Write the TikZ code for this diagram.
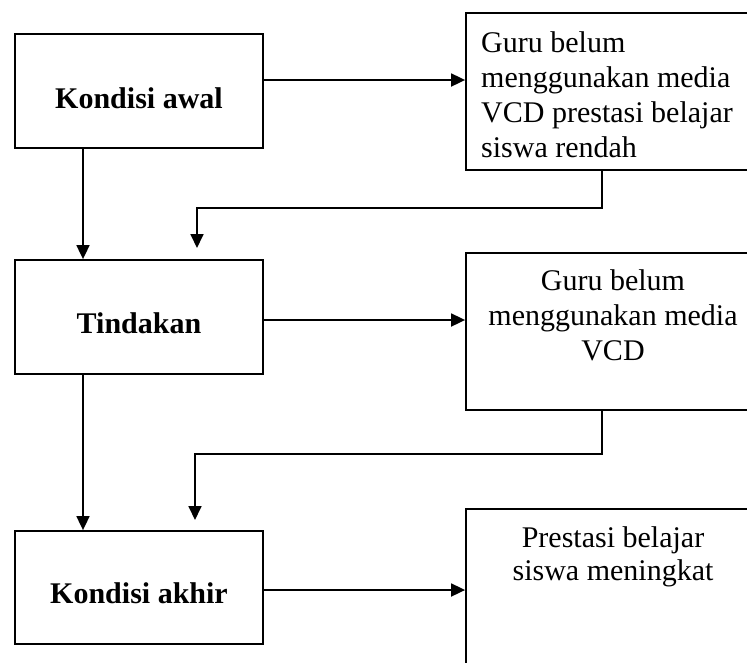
\documentclass[tikz,border=0pt]{standalone}
\usepackage{fontspec}
\setmainfont{Liberation Serif}
\usetikzlibrary{arrows.meta}
\begin{document}
\begin{tikzpicture}[x=1pt,y=-1pt,
  box/.style={draw, line width=1.8pt, rectangle, inner sep=0pt},
  lbl/.style={font=\fontsize{30}{35}\selectfont\bfseries, inner sep=0pt, anchor=base},
  txt/.style={font=\fontsize{30}{35}\selectfont, inner sep=0pt},
  arr/.style={line width=1.8pt, -{Triangle[length=14pt,width=13pt]}}]
\useasboundingbox (0,0) rectangle (747,662);
\clip (0,0) rectangle (747,662);
% left boxes
\node[box, minimum width=248pt, minimum height=114pt] (ka) at (139,91) {};
\node[lbl] (kat) at (139,108) {Kondisi awal};
\node[box, minimum width=248pt, minimum height=114pt] (td) at (139,317) {};
\node[lbl] (tdt) at (139,333) {Tindakan};
\node[box, minimum width=248pt, minimum height=113pt] (kk) at (139,587.5) {};
\node[lbl] (kkt) at (139,603) {Kondisi akhir};
% right boxes
\node[box, minimum width=294pt, minimum height=157pt] (r1) at (613,91.5) {};
\node[txt, anchor=north west, align=left] (r1t) at (481,31.5) {Guru belum\\menggunakan media\\VCD prestasi belajar\\siswa rendah};
\node[box, minimum width=294pt, minimum height=157pt] (r2) at (613,331.5) {};
\node[txt, anchor=north, align=center] (r2t) at (613,269.5) {Guru belum\\menggunakan media\\VCD};
\node[box, minimum width=294pt, minimum height=157pt] (r3) at (613,587.5) {};
\node[txt, anchor=north, align=center, font=\fontsize{30}{33}\selectfont] (r3t) at (613,526.5) {Prestasi belajar\\siswa meningkat};
% connectors
\draw[arr] (ka.east |- 0,80) -- (r1.west |- 0,80);
\draw[arr] (td.east |- 0,320) -- (r2.west |- 0,320);
\draw[arr] (kk.east |- 0,590) -- (r3.west |- 0,590);
\draw[arr] (ka.south -| 83,0) -- (td.north -| 83,0);
\draw[arr] (td.south -| 83,0) -- (kk.north -| 83,0);
\coordinate (c1) at (197,248);
\coordinate (c2) at (195,520);
\draw[arr] (r1.south -| 602,0) -- ++(0,37) -| (c1);
\draw[arr] (r2.south -| 602,0) -- ++(0,43) -| (c2);
\end{tikzpicture}
\end{document}
